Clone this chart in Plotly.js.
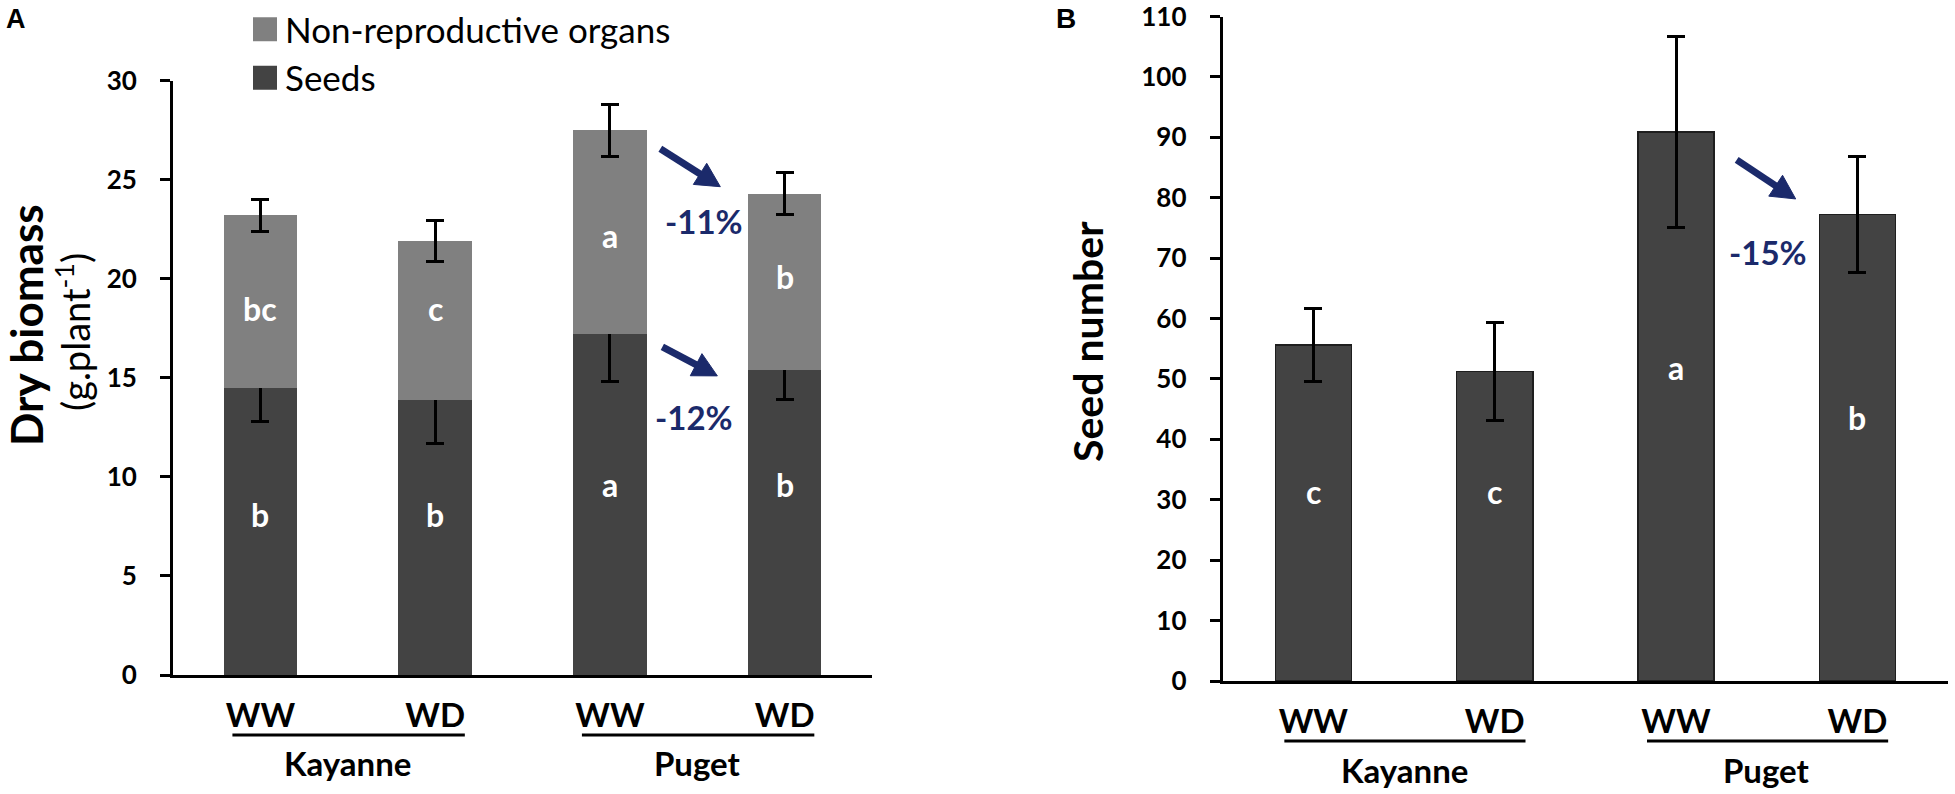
<!DOCTYPE html>
<html><head><meta charset="utf-8">
<script src="https://cdn.plot.ly/plotly-3.0.1.min.js"></script>
<style>html,body{margin:0;padding:0;background:#fff;} #chart{width:1955px;height:794px;}</style>
</head><body><div id="chart"></div>
<script>
// ---- data ----
const genotypes = ['Kayanne','Kayanne','Puget','Puget'];
const treatments = ['WW','WD','WW','WD'];
const categories = genotypes.map((g,i)=>g+' '+treatments[i]);

const seedsBiomass = [14.5, 13.9, 17.2, 15.4];
const seedsBiomassErr = [1.7, 2.2, 2.4, 1.5];
const nonReproBiomass = [8.7, 8.0, 10.3, 8.9];
const totalBiomassErr = [0.8, 1.05, 1.3, 1.05];
const seedNumber = [55.6, 51.2, 90.9, 77.2];
const seedNumberErr = [6.1, 8.1, 15.8, 9.6];

const yTicksA = [0, 5, 10, 15, 20, 25, 30];
const yTicksB = [0, 10, 20, 30, 40, 50, 60, 70, 80, 90, 100, 110];

const lettersSeedsA = ['b','b','a','b'];
const lettersNonReproA = ['bc','c','a','b'];
const lettersSeedNumber = ['c','c','a','b'];
const letterYSeedsA = [8.1, 8.1, 9.6, 9.6];
const letterYNonReproA = [18.5, 18.5, 22.2, 20.1];
const letterYSeedNumber = [31.3, 31.3, 51.9, 43.7];

const changeNonRepro = '-11%';
const changeSeedsA = '-12%';
const changeSeedNumber = '-15%';

// ---- style ----
const FONT = 'Lato, "Liberation Sans", sans-serif';
const NAVY = '#1b2a6b';
const DARK = '#434343';
const LIGHT = '#808080';
const W = 1955, H = 794;

const errStyle = {type:'data', color:'#000', thickness:3, width:9, visible:true};

const traces = [
  {type:'bar', name:'Seeds', x:categories, y:seedsBiomass, xaxis:'x', yaxis:'y',
   marker:{color:DARK, line:{width:0}}, width:0.42,
   error_y:Object.assign({array:seedsBiomassErr}, errStyle), hoverinfo:'skip'},
  {type:'bar', name:'Non-reproductive organs', x:categories, y:nonReproBiomass, xaxis:'x', yaxis:'y',
   marker:{color:LIGHT, line:{width:0}}, width:0.42,
   error_y:Object.assign({array:totalBiomassErr}, errStyle), hoverinfo:'skip'},
  {type:'bar', name:'Seed number', x:categories, y:seedNumber, xaxis:'x2', yaxis:'y2',
   marker:{color:DARK, line:{width:1.5, color:'#1e1e1e'}}, width:0.42, showlegend:false,
   error_y:Object.assign({array:seedNumberErr}, errStyle), hoverinfo:'skip'}
];

const xCommon = {
  type:'category', categoryorder:'array', categoryarray:categories,
  tickmode:'array', tickvals:categories, ticktext:treatments, range:[-0.5, 3.5],
  showline:true, linewidth:3, linecolor:'#000', ticks:'', showgrid:false, zeroline:false,
  tickfont:{family:FONT, size:33, color:'#000', weight:'bold'}, ticklabelstandoff:9,
  ticklabeloverflow:'allow', fixedrange:true
};
const yCommon = {
  showline:true, linewidth:3, linecolor:'#000', ticks:'outside', ticklen:10, tickwidth:3, tickcolor:'#000',
  showgrid:false, zeroline:false, tickfont:{family:FONT, size:26, color:'#000', weight:'bold'},
  tickmode:'array', fixedrange:true, ticklabelstandoff:18, ticklabeloverflow:'allow'
};

const layout = {
  width:W, height:H, margin:{l:0,r:0,t:0,b:0}, paper_bgcolor:'#fff', plot_bgcolor:'#fff',
  barmode:'stack', showlegend:true,
  font:{family:FONT, color:'#000'},
  xaxis:Object.assign({}, xCommon, {domain:[173/W, 872/W], anchor:'y'}),
  yaxis:Object.assign({}, yCommon, {domain:[1-675/H, 1-80.7/H], range:[0,30.001], tickvals:yTicksA, ticktext:yTicksA.map(String), anchor:'x'}),
  xaxis2:Object.assign({}, xCommon, {domain:[1222.7/W, 1948/W], anchor:'y2'}),
  yaxis2:Object.assign({}, yCommon, {domain:[1-681/H, 1-16.5/H], range:[0,110.001], tickvals:yTicksB, ticktext:yTicksB.map(String), anchor:'x2'}),
  legend:{x:245/W, y:1, xanchor:'left', yanchor:'top', orientation:'v', traceorder:'reversed',
          font:{family:FONT, size:35, color:'#000'}, bgcolor:'rgba(0,0,0,0)', tracegroupgap:0, itemclick:false},
  shapes:[], annotations:[]
};

// group underlines and group labels (panel B baseline sits a few px lower)
[['x', 735, 763], ['x2', 741, 770]].forEach(([ax, lineY, labelY])=>{
  const groups = [...new Set(genotypes)];
  groups.forEach(g=>{
    const idx = genotypes.map((v,i)=>v===g?i:-1).filter(i=>i>=0);
    const lo = Math.min(...idx), hi = Math.max(...idx);
    layout.shapes.push({type:'line', xref:ax, yref:'paper', x0:lo-0.16, x1:hi+0.17,
      y0:1-lineY/H, y1:1-lineY/H, line:{color:'#000', width:3}});
    layout.annotations.push({xref:ax, yref:'paper', x:(lo+hi)/2, y:1-labelY/H, text:'<b>'+g+'</b>',
      showarrow:false, font:{family:FONT, size:33, color:'#000'}, xanchor:'center', yanchor:'middle'});
  });
});

// significance letters
function letter(ax, ay, i, y, t){
  layout.annotations.push({xref:ax, yref:ay, x:i, y:y, text:'<b>'+t+'</b>', showarrow:false,
    font:{family:FONT, size:32, color:'#fff'}, xanchor:'center', yanchor:'middle'});
}
categories.forEach((c,i)=>{
  letter('x','y', i, letterYSeedsA[i], lettersSeedsA[i]);
  letter('x','y', i, letterYNonReproA[i], lettersNonReproA[i]);
  letter('x2','y2', i, letterYSeedNumber[i], lettersSeedNumber[i]);
});

// arrows drawn as shapes anchored at their tip (pixel offsets for the tail)
function arrow(ax, ay, x, y, tailDx, tailDy){
  const len = Math.hypot(tailDx, tailDy);
  const ux = -tailDx/len, uy = -tailDy/len;         // direction tail -> tip
  const L = 24, hw = 12.5;
  const bx = -L*ux, by = -L*uy;                     // base of head
  const nx = -uy, ny = ux;
  const c1 = [bx + hw*nx, by + hw*ny], c2 = [bx - hw*nx, by - hw*ny];
  const common = {xref:ax, yref:ay, xsizemode:'pixel', ysizemode:'pixel', xanchor:x, yanchor:y, layer:'above'};
  layout.shapes.push(Object.assign({type:'path',
    path:`M${tailDx},${tailDy}L${bx+ux*2},${by+uy*2}`, line:{color:NAVY, width:7}}, common));
  layout.shapes.push(Object.assign({type:'path',
    path:`M0,0L${c1[0]},${c1[1]}L${c2[0]},${c2[1]}Z`, fillcolor:NAVY, line:{color:NAVY, width:1}}, common));
}
function pct(ax, ay, x, y, t){
  layout.annotations.push({xref:ax, yref:ay, x:x, y:y, text:'<b>'+t+'</b>', showarrow:false,
    font:{family:FONT, size:33, color:NAVY}, xanchor:'center', yanchor:'middle'});
}
arrow('x','y', 2.632, 24.65, -60, 38);
pct('x','y', 2.536, 22.9, changeNonRepro);
arrow('x','y', 2.615, 15.1, -55, 29);
pct('x','y', 2.48, 13.0, changeSeedsA);
arrow('x2','y2', 2.66, 79.8, -59, 39);
pct('x2','y2', 2.51, 71.0, changeSeedNumber);

// y-axis titles and panel letters
layout.annotations.push(
  {xref:'paper', yref:'paper', x:26/W, y:1-325/H, text:'<b>Dry biomass</b>', textangle:-90, showarrow:false,
   font:{family:FONT, size:44, color:'#000'}, xanchor:'center', yanchor:'middle'},
  {xref:'paper', yref:'paper', x:73/W, y:1-332/H, text:'(g.plant<sup>-1</sup>)', textangle:-90, showarrow:false,
   font:{family:FONT, size:38, color:'#000'}, xanchor:'center', yanchor:'middle'},
  {xref:'paper', yref:'paper', x:1088/W, y:1-342/H, text:'<b>Seed number</b>', textangle:-90, showarrow:false,
   font:{family:FONT, size:41, color:'#000'}, xanchor:'center', yanchor:'middle'},
  {xref:'paper', yref:'paper', x:16/W, y:1-19/H, text:'<b>A</b>', showarrow:false,
   font:{family:'"Liberation Sans", Arial, sans-serif', size:27, color:'#000'}, xanchor:'center', yanchor:'middle'},
  {xref:'paper', yref:'paper', x:1066/W, y:1-18/H, text:'<b>B</b>', showarrow:false,
   font:{family:'"Liberation Sans", Arial, sans-serif', size:28, color:'#000'}, xanchor:'center', yanchor:'middle'}
);

Plotly.newPlot('chart', traces, layout, {staticPlot:true, displayModeBar:false}).then(()=>{
  // enlarge the legend swatches to match the reference
  document.querySelectorAll('.legend .legendpoints path').forEach(p=>{
    p.setAttribute('d','M12,12H-12V-12H12Z');
  });
  // drop the empty placeholder texts Plotly leaves for unused titles
  document.querySelectorAll('#chart text').forEach(t=>{
    if(!t.textContent || !t.textContent.trim()) t.remove();
  });
});
</script>
</body></html>
